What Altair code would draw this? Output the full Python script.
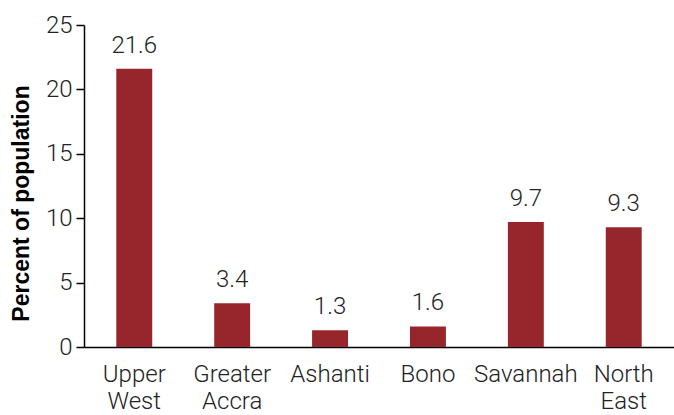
import altair as alt
import pandas as pd

regions = ["Upper West", "Greater Accra", "Ashanti", "Bono", "Savannah", "North East"]
values = [21.6, 3.4, 1.3, 1.6, 9.7, 9.3]
labels = ["21.6", "3.4", "1.3", "1.6", "9.7", "9.3"]

df = pd.DataFrame({"region": regions, "value": values, "label": labels})

FONT = "Roboto"
COLOR = "#97262C"

x = alt.X("region:N", sort=regions, title=None,
          scale=alt.Scale(paddingInner=0.633, paddingOuter=0.33),
          axis=alt.Axis(labelAngle=0, ticks=False, domainColor="#000", domainWidth=1.5,
                        labelFont=FONT, labelFontWeight=300, labelFontSize=24, labelColor="#222",
                        labelPadding=15, labelLineHeight=27,
                        labelExpr="split(datum.label, ' ')"))
y = alt.Y("value:Q", title="Percent of population",
          scale=alt.Scale(domain=[0, 25], nice=False),
          axis=alt.Axis(values=[0, 5, 10, 15, 20, 25], grid=False, domainColor="#000", domainWidth=1.5,
                        tickColor="#000", tickSize=8, tickWidth=1.5,
                        labelFont=FONT, labelFontWeight=300, labelFontSize=24, labelColor="#222",
                        labelPadding=4,
                        titleFont="Arial", titleFontWeight="bold", titleFontSize=23, titleColor="#000",
                        titleX=-51, titleY=178, titleAlign="center", titleBaseline="bottom",
                        titleAngle=270))

bars = alt.Chart(df).mark_bar(color=COLOR).encode(x=x, y=y)
text = alt.Chart(df).mark_text(baseline="bottom", dy=-11, font=FONT, fontWeight=300,
                               fontSize=24, color="#222").encode(
    x=alt.X("region:N", sort=regions), y="value:Q", text="label:N")

chart = (bars + text).properties(
    width=590, height=322,
    autosize=alt.AutoSizeParams(type="none"),
    padding={"left": 84, "top": 25, "right": 0, "bottom": 68},
).configure_view(stroke=None)

chart.save("out.html", embed_options={"renderer": "svg", "actions": False})
